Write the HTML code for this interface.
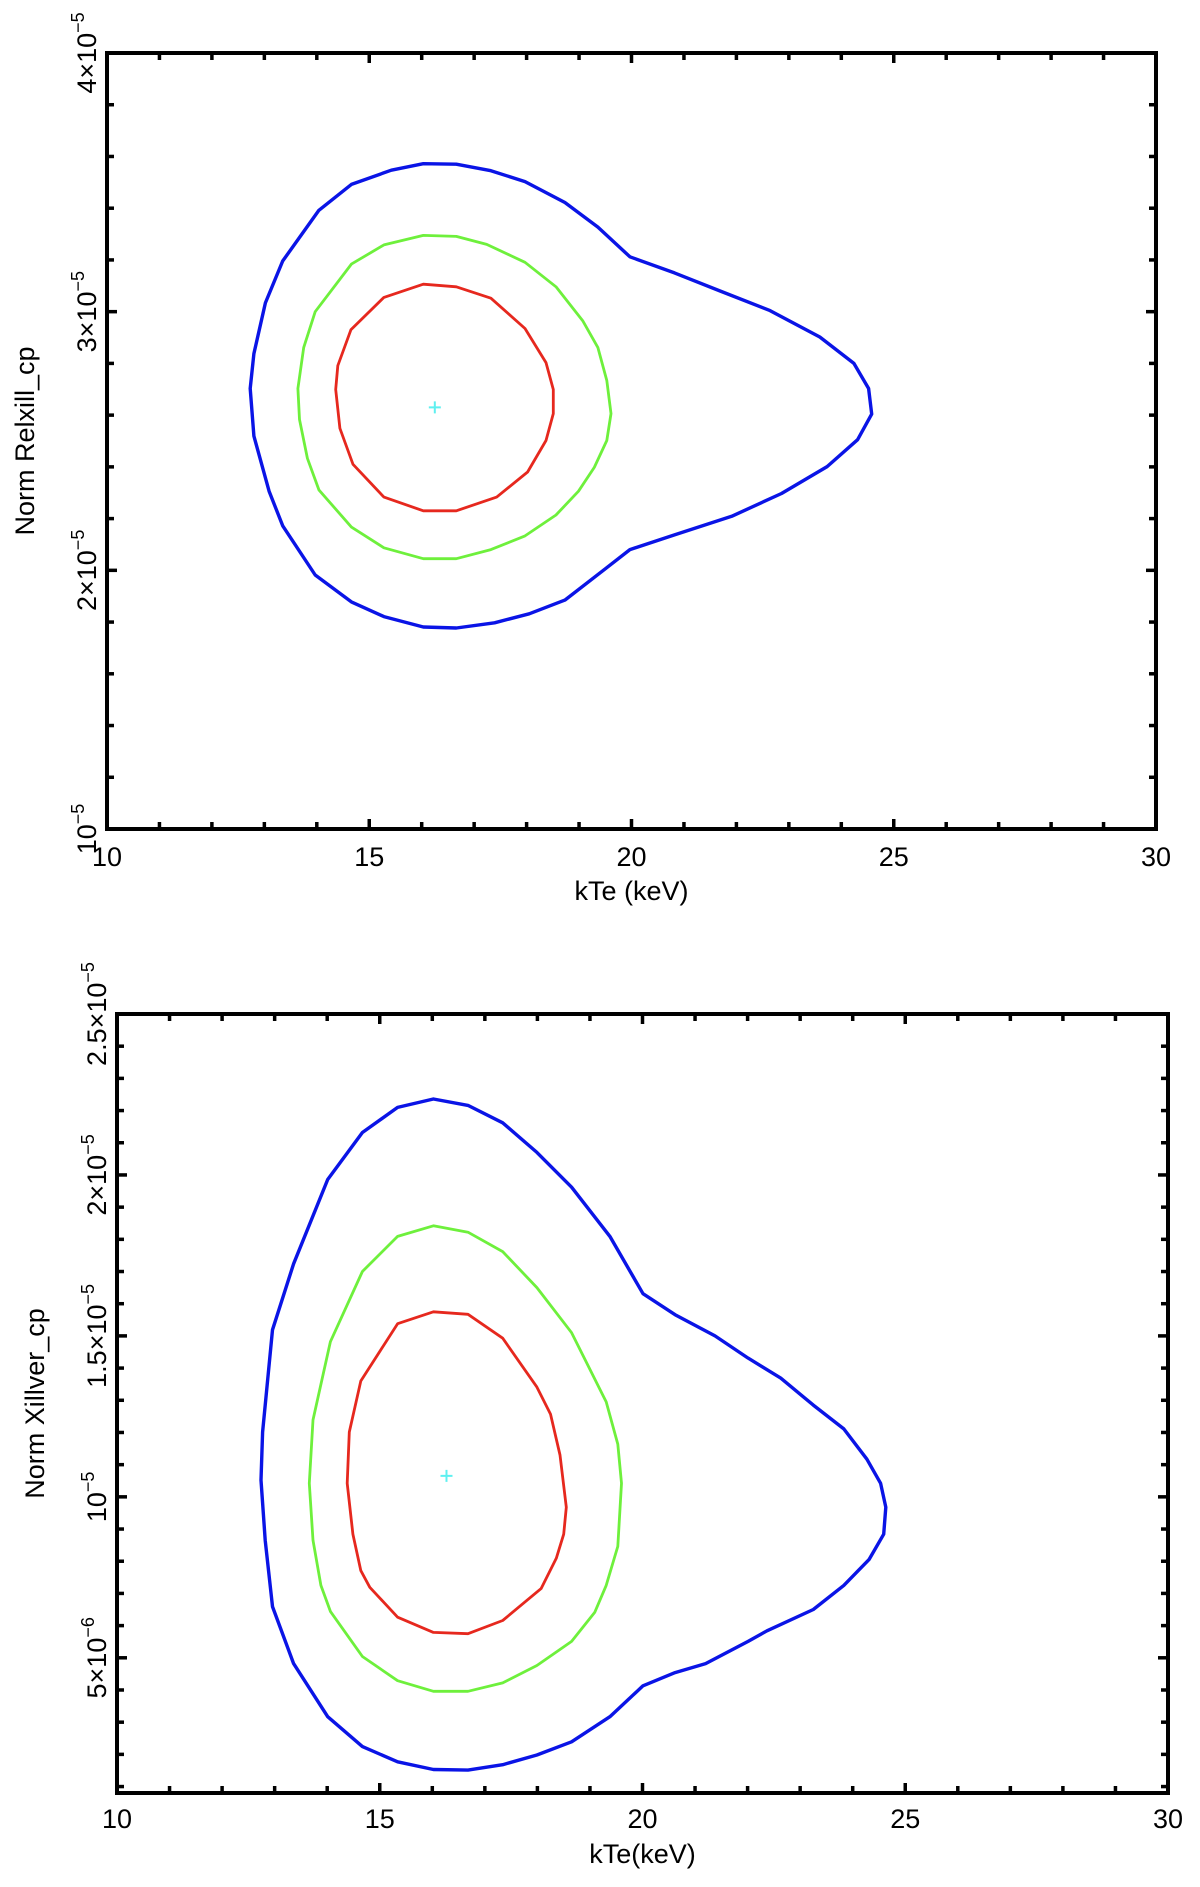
<!DOCTYPE html>
<html><head><meta charset="utf-8"><style>
body{margin:0;background:#fff}
svg text{font-family:"Liberation Sans",sans-serif;fill:#000}
</style></head><body>
<svg id="fig" width="1200" height="1882" viewBox="0 0 1200 1882" xmlns="http://www.w3.org/2000/svg"></svg>
<script>
// ---------- data: top panel (Norm Relxill_cp, units 1e-5) ----------
const topBlueX=[16.03,16.66,17.32,17.97,18.73,19.36,19.97,20.82,21.69,22.64,23.59,24.24,24.52,24.58,24.31,23.73,22.86,21.91,20.82,19.97,19.50,18.73,18.05,17.39,16.66,16.03,15.28,14.66,13.97,13.35,13.09,12.80,12.73,12.80,13.02,13.35,14.04,14.66,15.42];
const topBlueY=[3.572,3.570,3.545,3.503,3.422,3.327,3.212,3.150,3.080,3.004,2.902,2.800,2.703,2.604,2.505,2.401,2.297,2.209,2.137,2.080,2.006,1.885,1.832,1.797,1.777,1.781,1.821,1.878,1.982,2.172,2.306,2.519,2.703,2.838,3.034,3.196,3.392,3.492,3.547];
const topGreenX=[16.03,16.66,17.24,17.97,18.56,19.07,19.36,19.53,19.61,19.53,19.29,18.99,18.56,17.97,17.32,16.66,16.03,15.28,14.66,14.04,13.82,13.67,13.64,13.75,13.97,14.66,15.28];
const topGreenY=[3.295,3.291,3.260,3.191,3.096,2.965,2.861,2.734,2.606,2.502,2.398,2.306,2.214,2.133,2.080,2.045,2.045,2.087,2.167,2.311,2.433,2.583,2.703,2.861,3.000,3.184,3.258];
const topRedX=[16.03,16.66,17.32,17.97,18.37,18.51,18.51,18.37,18.02,17.43,16.66,16.03,15.28,14.69,14.44,14.36,14.40,14.65,15.28];
const topRedY=[3.106,3.096,3.052,2.935,2.803,2.699,2.606,2.502,2.380,2.283,2.230,2.230,2.283,2.410,2.549,2.699,2.791,2.930,3.055];
const topBest=[16.25,2.630];
const topXTicks=[10,15,20,25,30];
const topYTicks=[1,2,3,4];
const topYTickLabels=["10","2×10","3×10","4×10"];
// ---------- data: bottom panel (Norm Xillver_cp, units 1e-6) ----------
const botBlueX=[16.02,16.68,17.34,17.99,18.65,19.38,20.01,20.62,21.38,22.01,22.63,23.25,23.83,24.27,24.53,24.63,24.59,24.31,23.83,23.25,22.37,22.01,21.20,20.62,20.01,19.38,18.65,17.99,17.34,16.68,16.02,15.34,14.67,14.01,13.36,12.96,12.82,12.74,12.77,12.96,13.36,14.01,14.67,15.34];
const botBlueY=[22.36,22.16,21.62,20.70,19.62,18.09,16.31,15.66,15.00,14.31,13.69,12.85,12.11,11.17,10.42,9.68,8.84,8.05,7.25,6.50,5.84,5.51,4.82,4.54,4.13,3.17,2.39,1.98,1.68,1.51,1.53,1.77,2.24,3.17,4.82,6.59,8.65,10.52,12.01,15.19,17.24,19.86,21.32,22.10];
const botGreenX=[16.02,16.68,17.34,17.99,18.65,19.31,19.53,19.60,19.53,19.31,19.09,18.65,17.99,17.34,16.68,16.02,15.34,14.67,14.06,13.88,13.73,13.66,13.73,14.06,14.67,15.34];
const botGreenY=[18.42,18.22,17.62,16.50,15.10,12.95,11.64,10.42,8.46,7.25,6.41,5.51,4.76,4.22,3.96,3.96,4.29,5.04,6.44,7.25,8.65,10.42,12.39,14.82,17.00,18.09];
const botRedX=[16.02,16.68,17.34,17.99,18.25,18.43,18.55,18.50,18.36,18.07,17.34,16.68,16.02,15.34,14.81,14.64,14.49,14.38,14.42,14.64,15.34];
const botRedY=[15.75,15.67,14.93,13.41,12.57,11.30,9.68,8.84,8.09,7.15,6.16,5.75,5.79,6.26,7.19,7.71,8.84,10.42,12.01,13.60,15.38];
const botBest=[16.27,10.65];
const botXTicks=[10,15,20,25,30];
const botYTicks=[5,10,15,20,25];
const botYTickLabels=["5×10","10","1.5×10","2×10","2.5×10"];
const botYTickExp=["−6","−5","−5","−5","−5"];

const NS="http://www.w3.org/2000/svg";
const svg=document.getElementById('fig');
function mk(tag,attrs,parent){const e=document.createElementNS(NS,tag);for(const k in attrs)e.setAttribute(k,attrs[k]);(parent||svg).appendChild(e);return e;}

function panel(cfg){
  const g=mk('g',{});
  
  
  const sx=v=>cfg.L+(v-cfg.x0)/(cfg.x1-cfg.x0)*(cfg.R-cfg.L);
  const sy=v=>cfg.B-(v-cfg.y0)/(cfg.y1-cfg.y0)*(cfg.B-cfg.T);
  for(let v=cfg.x0;v<=cfg.x1+1e-9;v+=cfg.xMinor){
    const major=Math.abs(v/5-Math.round(v/5))<1e-6;const len=major?10:7;const x=sx(v);
    const t1=mk('line',{x1:x,x2:x,y1:cfg.B,y2:cfg.B-len,stroke:'#000','stroke-width':3.5},g);
    
    const t2=mk('line',{x1:x,x2:x,y1:cfg.T,y2:cfg.T+len,stroke:'#000','stroke-width':3.5},g);
    
  }
  const nY=Math.round((cfg.yMinorEnd-cfg.yMinorStart)/cfg.yMinor);
  for(let i=0;i<=nY;i++){
    const v=cfg.yMinorStart+i*cfg.yMinor;
    const major=cfg.yMajor.some(m=>Math.abs(m-v)<1e-6);const len=major?10:7;const y=sy(v);
    const t1=mk('line',{x1:cfg.L,x2:cfg.L+len,y1:y,y2:y,stroke:'#000','stroke-width':3.5},g);
    
    const t2=mk('line',{x1:cfg.R,x2:cfg.R-len,y1:y,y2:y,stroke:'#000','stroke-width':3.5},g);
    
  }
  const fr=mk('rect',{x:cfg.L,y:cfg.T,width:cfg.R-cfg.L,height:cfg.B-cfg.T,fill:'none',stroke:'#000','stroke-width':4},g);
  
  cfg.series.forEach(s=>{
    const pts=s.x.map((v,i)=>sx(v).toFixed(1)+','+sy(s.y[i]).toFixed(1)).join(' ');
    const p=mk('polygon',{points:pts,fill:'none',stroke:s.c,'stroke-width':s.w,'stroke-linejoin':'round'},g);
    
  });
  const bx=sx(cfg.best[0]),by=sy(cfg.best[1]);
  const cr=mk('path',{d:`M${bx-6},${by}H${bx+6}M${bx},${by-6}V${by+6}`,stroke:'#5ef0f0','stroke-width':2},g);
  
  cfg.xTicks.forEach(v=>{
    const t=mk('text',{x:sx(v),y:cfg.xLabelY,'text-anchor':'middle','font-size':27},g);
    t.textContent=v;
    
  });
  const xt=mk('text',{x:(cfg.L+cfg.R)/2,y:cfg.xTitleY,'text-anchor':'middle','font-size':27},g);
  xt.textContent=cfg.xTitle;
  
  cfg.yTicks.forEach((v,i)=>{
    const y=sy(v);
    const t=mk('text',{transform:`translate(${cfg.yLabelX},${y}) rotate(-90)`,'text-anchor':'middle','font-size':27},g);
    
    const a=mk('tspan',{},t);a.textContent=cfg.yTickLabels[i];
    const b=mk('tspan',{dy:-12,'font-size':18},t);b.textContent=cfg.yTickExp[i];
  });
  const yt=mk('text',{transform:`translate(${cfg.yTitleX},${(cfg.T+cfg.B)/2}) rotate(-90)`,'text-anchor':'middle','font-size':27},g);
  yt.textContent=cfg.yTitle;
  
}

panel({name:'top-panel',L:107,R:1156,T:53,B:829,x0:10,x1:30,y0:1,y1:4,xMinor:1,
  yMinor:0.2,yMinorStart:1,yMinorEnd:4,yMajor:[1,2,3,4],
  series:[{x:topBlueX,y:topBlueY,c:'#0a14e6',w:3.4,name:'contour-blue-99'},{x:topGreenX,y:topGreenY,c:'#6ef03c',w:2.8,name:'contour-green-90'},{x:topRedX,y:topRedY,c:'#e6281e',w:2.8,name:'contour-red-68'}],
  best:topBest,xTicks:topXTicks,xLabelY:866,xTitle:'kTe (keV)',xTitleY:900,
  yTicks:topYTicks,yTickLabels:topYTickLabels,yTickExp:["−5","−5","−5","−5"],yLabelX:96,yTitle:'Norm Relxill_cp',yTitleX:34});

panel({name:'bottom-panel',L:117,R:1168,T:1014,B:1793,x0:10,x1:30,y0:0.8,y1:25,xMinor:1,
  yMinor:1,yMinorStart:1,yMinorEnd:25,yMajor:[5,10,15,20,25],
  series:[{x:botBlueX,y:botBlueY,c:'#0a14e6',w:3.4,name:'contour-blue-99'},{x:botGreenX,y:botGreenY,c:'#6ef03c',w:2.8,name:'contour-green-90'},{x:botRedX,y:botRedY,c:'#e6281e',w:2.8,name:'contour-red-68'}],
  best:botBest,xTicks:botXTicks,xLabelY:1828,xTitle:'kTe(keV)',xTitleY:1863,
  yTicks:botYTicks,yTickLabels:botYTickLabels,yTickExp:botYTickExp,yLabelX:106,yTitle:'Norm Xillver_cp',yTitleX:44});
</script>
</body></html>
